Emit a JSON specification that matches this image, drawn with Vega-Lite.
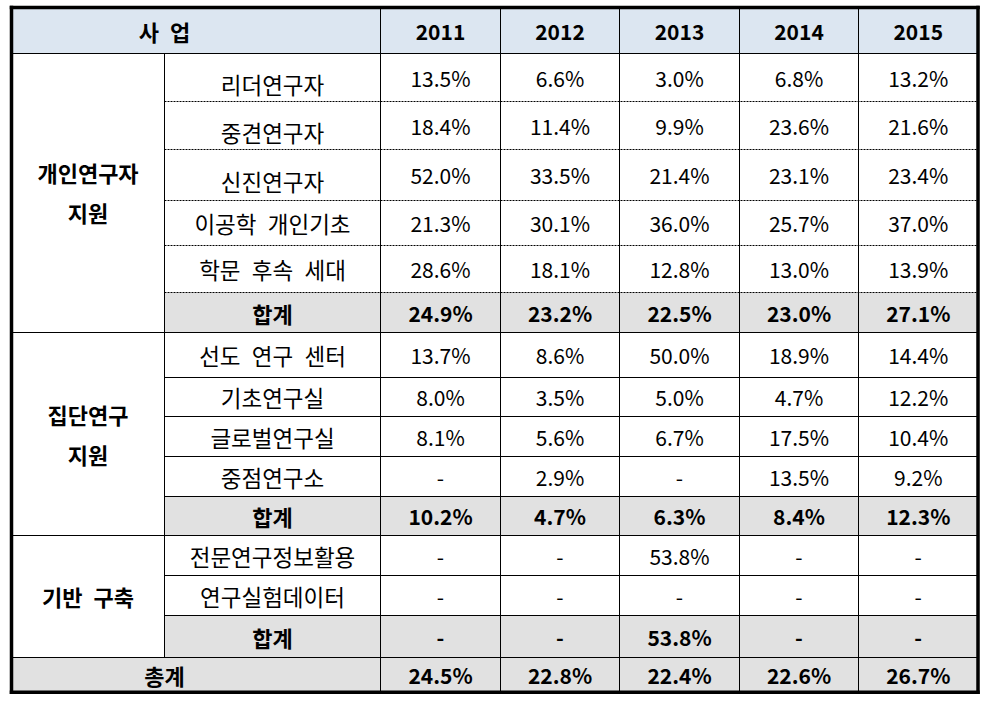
{
  "$schema": "https://vega.github.io/schema/vega-lite/v6.json",
  "width": 991,
  "height": 704,
  "autosize": {"type": "none"},
  "padding": 0,
  "background": "white",
  "config": {
    "view": {"stroke": null},
    "text": {"font": "Noto Sans CJK KR", "fontSize": 21, "lineBreak": "\n", "lineHeight": 40, "color": "black", "baseline": "middle", "align": "center"}
  },
  "datasets": {
    "cells": [
      {"x0": 0, "x1": 2, "y0": 0, "y1": 1, "t": "사 업", "kind": "head"},
      {"x0": 2, "x1": 3, "y0": 0, "y1": 1, "t": "2011", "kind": "head"},
      {"x0": 3, "x1": 4, "y0": 0, "y1": 1, "t": "2012", "kind": "head"},
      {"x0": 4, "x1": 5, "y0": 0, "y1": 1, "t": "2013", "kind": "head"},
      {"x0": 5, "x1": 6, "y0": 0, "y1": 1, "t": "2014", "kind": "head"},
      {"x0": 6, "x1": 7, "y0": 0, "y1": 1, "t": "2015", "kind": "head"},
      {"x0": 0, "x1": 1, "y0": 1, "y1": 7, "t": "개인연구자\n지원", "kind": "group"},
      {"x0": 0, "x1": 1, "y0": 7, "y1": 12, "t": "집단연구\n지원", "kind": "group"},
      {"x0": 0, "x1": 1, "y0": 12, "y1": 15, "t": "기반 구축", "kind": "group"},

      {"x0": 1, "x1": 2, "y0": 1, "y1": 2, "t": "리더연구자", "kind": "item"},
      {"x0": 2, "x1": 3, "y0": 1, "y1": 2, "t": "13.5%", "kind": "item"},
      {"x0": 3, "x1": 4, "y0": 1, "y1": 2, "t": "6.6%", "kind": "item"},
      {"x0": 4, "x1": 5, "y0": 1, "y1": 2, "t": "3.0%", "kind": "item"},
      {"x0": 5, "x1": 6, "y0": 1, "y1": 2, "t": "6.8%", "kind": "item"},
      {"x0": 6, "x1": 7, "y0": 1, "y1": 2, "t": "13.2%", "kind": "item"},

      {"x0": 1, "x1": 2, "y0": 2, "y1": 3, "t": "중견연구자", "kind": "item"},
      {"x0": 2, "x1": 3, "y0": 2, "y1": 3, "t": "18.4%", "kind": "item"},
      {"x0": 3, "x1": 4, "y0": 2, "y1": 3, "t": "11.4%", "kind": "item"},
      {"x0": 4, "x1": 5, "y0": 2, "y1": 3, "t": "9.9%", "kind": "item"},
      {"x0": 5, "x1": 6, "y0": 2, "y1": 3, "t": "23.6%", "kind": "item"},
      {"x0": 6, "x1": 7, "y0": 2, "y1": 3, "t": "21.6%", "kind": "item"},

      {"x0": 1, "x1": 2, "y0": 3, "y1": 4, "t": "신진연구자", "kind": "item"},
      {"x0": 2, "x1": 3, "y0": 3, "y1": 4, "t": "52.0%", "kind": "item"},
      {"x0": 3, "x1": 4, "y0": 3, "y1": 4, "t": "33.5%", "kind": "item"},
      {"x0": 4, "x1": 5, "y0": 3, "y1": 4, "t": "21.4%", "kind": "item"},
      {"x0": 5, "x1": 6, "y0": 3, "y1": 4, "t": "23.1%", "kind": "item"},
      {"x0": 6, "x1": 7, "y0": 3, "y1": 4, "t": "23.4%", "kind": "item"},

      {"x0": 1, "x1": 2, "y0": 4, "y1": 5, "t": "이공학 개인기초", "kind": "item"},
      {"x0": 2, "x1": 3, "y0": 4, "y1": 5, "t": "21.3%", "kind": "item"},
      {"x0": 3, "x1": 4, "y0": 4, "y1": 5, "t": "30.1%", "kind": "item"},
      {"x0": 4, "x1": 5, "y0": 4, "y1": 5, "t": "36.0%", "kind": "item"},
      {"x0": 5, "x1": 6, "y0": 4, "y1": 5, "t": "25.7%", "kind": "item"},
      {"x0": 6, "x1": 7, "y0": 4, "y1": 5, "t": "37.0%", "kind": "item"},

      {"x0": 1, "x1": 2, "y0": 5, "y1": 6, "t": "학문 후속 세대", "kind": "item"},
      {"x0": 2, "x1": 3, "y0": 5, "y1": 6, "t": "28.6%", "kind": "item"},
      {"x0": 3, "x1": 4, "y0": 5, "y1": 6, "t": "18.1%", "kind": "item"},
      {"x0": 4, "x1": 5, "y0": 5, "y1": 6, "t": "12.8%", "kind": "item"},
      {"x0": 5, "x1": 6, "y0": 5, "y1": 6, "t": "13.0%", "kind": "item"},
      {"x0": 6, "x1": 7, "y0": 5, "y1": 6, "t": "13.9%", "kind": "item"},

      {"x0": 1, "x1": 2, "y0": 6, "y1": 7, "t": "합계", "kind": "sub"},
      {"x0": 2, "x1": 3, "y0": 6, "y1": 7, "t": "24.9%", "kind": "sub"},
      {"x0": 3, "x1": 4, "y0": 6, "y1": 7, "t": "23.2%", "kind": "sub"},
      {"x0": 4, "x1": 5, "y0": 6, "y1": 7, "t": "22.5%", "kind": "sub"},
      {"x0": 5, "x1": 6, "y0": 6, "y1": 7, "t": "23.0%", "kind": "sub"},
      {"x0": 6, "x1": 7, "y0": 6, "y1": 7, "t": "27.1%", "kind": "sub"},

      {"x0": 1, "x1": 2, "y0": 7, "y1": 8, "t": "선도 연구 센터", "kind": "item"},
      {"x0": 2, "x1": 3, "y0": 7, "y1": 8, "t": "13.7%", "kind": "item"},
      {"x0": 3, "x1": 4, "y0": 7, "y1": 8, "t": "8.6%", "kind": "item"},
      {"x0": 4, "x1": 5, "y0": 7, "y1": 8, "t": "50.0%", "kind": "item"},
      {"x0": 5, "x1": 6, "y0": 7, "y1": 8, "t": "18.9%", "kind": "item"},
      {"x0": 6, "x1": 7, "y0": 7, "y1": 8, "t": "14.4%", "kind": "item"},

      {"x0": 1, "x1": 2, "y0": 8, "y1": 9, "t": "기초연구실", "kind": "item"},
      {"x0": 2, "x1": 3, "y0": 8, "y1": 9, "t": "8.0%", "kind": "item"},
      {"x0": 3, "x1": 4, "y0": 8, "y1": 9, "t": "3.5%", "kind": "item"},
      {"x0": 4, "x1": 5, "y0": 8, "y1": 9, "t": "5.0%", "kind": "item"},
      {"x0": 5, "x1": 6, "y0": 8, "y1": 9, "t": "4.7%", "kind": "item"},
      {"x0": 6, "x1": 7, "y0": 8, "y1": 9, "t": "12.2%", "kind": "item"},

      {"x0": 1, "x1": 2, "y0": 9, "y1": 10, "t": "글로벌연구실", "kind": "item"},
      {"x0": 2, "x1": 3, "y0": 9, "y1": 10, "t": "8.1%", "kind": "item"},
      {"x0": 3, "x1": 4, "y0": 9, "y1": 10, "t": "5.6%", "kind": "item"},
      {"x0": 4, "x1": 5, "y0": 9, "y1": 10, "t": "6.7%", "kind": "item"},
      {"x0": 5, "x1": 6, "y0": 9, "y1": 10, "t": "17.5%", "kind": "item"},
      {"x0": 6, "x1": 7, "y0": 9, "y1": 10, "t": "10.4%", "kind": "item"},

      {"x0": 1, "x1": 2, "y0": 10, "y1": 11, "t": "중점연구소", "kind": "item"},
      {"x0": 2, "x1": 3, "y0": 10, "y1": 11, "t": "-", "kind": "item"},
      {"x0": 3, "x1": 4, "y0": 10, "y1": 11, "t": "2.9%", "kind": "item"},
      {"x0": 4, "x1": 5, "y0": 10, "y1": 11, "t": "-", "kind": "item"},
      {"x0": 5, "x1": 6, "y0": 10, "y1": 11, "t": "13.5%", "kind": "item"},
      {"x0": 6, "x1": 7, "y0": 10, "y1": 11, "t": "9.2%", "kind": "item"},

      {"x0": 1, "x1": 2, "y0": 11, "y1": 12, "t": "합계", "kind": "sub"},
      {"x0": 2, "x1": 3, "y0": 11, "y1": 12, "t": "10.2%", "kind": "sub"},
      {"x0": 3, "x1": 4, "y0": 11, "y1": 12, "t": "4.7%", "kind": "sub"},
      {"x0": 4, "x1": 5, "y0": 11, "y1": 12, "t": "6.3%", "kind": "sub"},
      {"x0": 5, "x1": 6, "y0": 11, "y1": 12, "t": "8.4%", "kind": "sub"},
      {"x0": 6, "x1": 7, "y0": 11, "y1": 12, "t": "12.3%", "kind": "sub"},

      {"x0": 1, "x1": 2, "y0": 12, "y1": 13, "t": "전문연구정보활용", "kind": "item"},
      {"x0": 2, "x1": 3, "y0": 12, "y1": 13, "t": "-", "kind": "item"},
      {"x0": 3, "x1": 4, "y0": 12, "y1": 13, "t": "-", "kind": "item"},
      {"x0": 4, "x1": 5, "y0": 12, "y1": 13, "t": "53.8%", "kind": "item"},
      {"x0": 5, "x1": 6, "y0": 12, "y1": 13, "t": "-", "kind": "item"},
      {"x0": 6, "x1": 7, "y0": 12, "y1": 13, "t": "-", "kind": "item"},

      {"x0": 1, "x1": 2, "y0": 13, "y1": 14, "t": "연구실험데이터", "kind": "item"},
      {"x0": 2, "x1": 3, "y0": 13, "y1": 14, "t": "-", "kind": "item"},
      {"x0": 3, "x1": 4, "y0": 13, "y1": 14, "t": "-", "kind": "item"},
      {"x0": 4, "x1": 5, "y0": 13, "y1": 14, "t": "-", "kind": "item"},
      {"x0": 5, "x1": 6, "y0": 13, "y1": 14, "t": "-", "kind": "item"},
      {"x0": 6, "x1": 7, "y0": 13, "y1": 14, "t": "-", "kind": "item"},

      {"x0": 1, "x1": 2, "y0": 14, "y1": 15, "t": "합계", "kind": "sub"},
      {"x0": 2, "x1": 3, "y0": 14, "y1": 15, "t": "-", "kind": "sub"},
      {"x0": 3, "x1": 4, "y0": 14, "y1": 15, "t": "-", "kind": "sub"},
      {"x0": 4, "x1": 5, "y0": 14, "y1": 15, "t": "53.8%", "kind": "sub"},
      {"x0": 5, "x1": 6, "y0": 14, "y1": 15, "t": "-", "kind": "sub"},
      {"x0": 6, "x1": 7, "y0": 14, "y1": 15, "t": "-", "kind": "sub"},

      {"x0": 0, "x1": 2, "y0": 15, "y1": 16, "t": "총계", "kind": "total"},
      {"x0": 2, "x1": 3, "y0": 15, "y1": 16, "t": "24.5%", "kind": "total"},
      {"x0": 3, "x1": 4, "y0": 15, "y1": 16, "t": "22.8%", "kind": "total"},
      {"x0": 4, "x1": 5, "y0": 15, "y1": 16, "t": "22.4%", "kind": "total"},
      {"x0": 5, "x1": 6, "y0": 15, "y1": 16, "t": "22.6%", "kind": "total"},
      {"x0": 6, "x1": 7, "y0": 15, "y1": 16, "t": "26.7%", "kind": "total"}
    ],
    "lines": [
      {"x0": 0, "x1": 7, "y0": 1, "y1": 1, "s": "solid"},
      {"x0": 1, "x1": 7, "y0": 2, "y1": 2, "s": "dash"},
      {"x0": 1, "x1": 7, "y0": 3, "y1": 3, "s": "dash"},
      {"x0": 1, "x1": 7, "y0": 4, "y1": 4, "s": "dash"},
      {"x0": 1, "x1": 7, "y0": 5, "y1": 5, "s": "dash"},
      {"x0": 1, "x1": 7, "y0": 6, "y1": 6, "s": "dash"},
      {"x0": 0, "x1": 7, "y0": 7, "y1": 7, "s": "solid"},
      {"x0": 1, "x1": 7, "y0": 8, "y1": 8, "s": "solid"},
      {"x0": 1, "x1": 7, "y0": 9, "y1": 9, "s": "solid"},
      {"x0": 1, "x1": 7, "y0": 10, "y1": 10, "s": "solid"},
      {"x0": 1, "x1": 7, "y0": 11, "y1": 11, "s": "solid"},
      {"x0": 0, "x1": 7, "y0": 12, "y1": 12, "s": "solid"},
      {"x0": 1, "x1": 7, "y0": 13, "y1": 13, "s": "solid"},
      {"x0": 1, "x1": 7, "y0": 14, "y1": 14, "s": "solid"},
      {"x0": 0, "x1": 7, "y0": 15, "y1": 15, "s": "solid"},
      {"x0": 1, "x1": 1, "y0": 1, "y1": 15, "s": "solid"},
      {"x0": 2, "x1": 2, "y0": 0, "y1": 16, "s": "solid"},
      {"x0": 3, "x1": 3, "y0": 0, "y1": 16, "s": "solid"},
      {"x0": 4, "x1": 4, "y0": 0, "y1": 16, "s": "solid"},
      {"x0": 5, "x1": 5, "y0": 0, "y1": 16, "s": "solid"},
      {"x0": 6, "x1": 6, "y0": 0, "y1": 16, "s": "solid"},
      {"x0": 0, "x1": 7, "y0": 0, "y1": 0, "s": "thick"},
      {"x0": 0, "x1": 7, "y0": 16, "y1": 16, "s": "thick"},
      {"x0": 0, "x1": 0, "y0": 0, "y1": 16, "s": "thick"},
      {"x0": 7, "x1": 7, "y0": 0, "y1": 16, "s": "thick"}
    ]
  },
  "layer": [
    {
      "data": {"name": "cells"},
      "mark": {"type": "rect", "strokeWidth": 0},
      "encoding": {
        "x": {"field": "x0", "type": "quantitative", "axis": null, "scale": {"domain": [0, 1, 2, 3, 4, 5, 6, 7], "range": [11.5, 164.5, 380.5, 500.5, 619.5, 739.5, 858.5, 978], "nice": false, "zero": false}},
        "x2": {"field": "x1"},
        "y": {"field": "y0", "type": "quantitative", "axis": null, "scale": {"domain": [0, 1, 2, 3, 4, 5, 6, 7, 8, 9, 10, 11, 12, 13, 14, 15, 16], "range": [7.5, 53.5, 101.5, 149.5, 200.5, 245.5, 292.5, 332.5, 377.5, 416.5, 456.5, 496.5, 535.5, 575.5, 615.5, 657.5, 692.3], "nice": false, "zero": false}},
        "y2": {"field": "y1"},
        "fill": {"field": "kind", "type": "nominal", "legend": null, "scale": {"domain": ["head", "item", "sub", "total", "group"], "range": ["#DCE6F1", "#FFFFFF", "#E1E1E1", "#E1E1E1", "#FFFFFF"]}}
      }
    },
    {
      "data": {"name": "lines"},
      "transform": [{"filter": "datum.s === 'solid'"}],
      "mark": {"type": "rule", "color": "black", "strokeWidth": 1},
      "encoding": {
        "x": {"field": "x0", "type": "quantitative", "axis": null},
        "x2": {"field": "x1"},
        "y": {"field": "y0", "type": "quantitative", "axis": null},
        "y2": {"field": "y1"}
      }
    },
    {
      "data": {"name": "lines"},
      "transform": [{"filter": "datum.s === 'dash'"}],
      "mark": {"type": "rule", "color": "black", "strokeWidth": 1, "strokeDash": [2, 1]},
      "encoding": {
        "x": {"field": "x0", "type": "quantitative", "axis": null},
        "x2": {"field": "x1"},
        "y": {"field": "y0", "type": "quantitative", "axis": null},
        "y2": {"field": "y1"}
      }
    },
    {
      "data": {"name": "lines"},
      "transform": [{"filter": "datum.s === 'thick'"}],
      "mark": {"type": "rule", "color": "black", "strokeWidth": 3.5, "strokeCap": "square"},
      "encoding": {
        "x": {"field": "x0", "type": "quantitative", "axis": null},
        "x2": {"field": "x1"},
        "y": {"field": "y0", "type": "quantitative", "axis": null},
        "y2": {"field": "y1"}
      }
    },
    {
      "data": {"name": "cells"},
      "transform": [
        {"filter": "datum.kind === 'item' && datum.x0 >= 2"},
        {"calculate": "(datum.x0 + datum.x1) / 2", "as": "xm"},
        {"calculate": "(datum.y0 + datum.y1) / 2", "as": "ym"}
      ],
      "mark": {"type": "text", "fontWeight": "normal", "fontSize": 21, "dy": 3},
      "encoding": {
        "x": {"field": "xm", "type": "quantitative", "axis": null},
        "y": {"field": "ym", "type": "quantitative", "axis": null},
        "text": {"field": "t", "type": "nominal"}
      }
    },
    {
      "data": {"name": "cells"},
      "transform": [
        {"filter": "datum.kind === 'item' && datum.x0 === 1 && datum.y0 <= 3"},
        {"calculate": "(datum.x0 + datum.x1) / 2", "as": "xm"},
        {"calculate": "(datum.y0 + datum.y1) / 2", "as": "ym"}
      ],
      "mark": {"type": "text", "fontWeight": "normal", "fontSize": 22.5, "dy": 9},
      "encoding": {
        "x": {"field": "xm", "type": "quantitative", "axis": null},
        "y": {"field": "ym", "type": "quantitative", "axis": null},
        "text": {"field": "t", "type": "nominal"}
      }
    },
    {
      "data": {"name": "cells"},
      "transform": [
        {"filter": "datum.kind === 'item' && datum.x0 === 1 && datum.y0 > 3"},
        {"calculate": "replace(datum.t, / /g, '\u2002')", "as": "tw"},
        {"calculate": "(datum.x0 + datum.x1) / 2", "as": "xm"},
        {"calculate": "(datum.y0 + datum.y1) / 2", "as": "ym"}
      ],
      "mark": {"type": "text", "fontWeight": "normal", "fontSize": 22.5, "dy": 3},
      "encoding": {
        "x": {"field": "xm", "type": "quantitative", "axis": null},
        "y": {"field": "ym", "type": "quantitative", "axis": null},
        "text": {"field": "tw", "type": "nominal"}
      }
    },
    {
      "data": {"name": "cells"},
      "transform": [
        {"filter": "datum.kind !== 'item' && datum.kind !== 'group' && datum.x0 >= 2"},
        {"calculate": "(datum.x0 + datum.x1) / 2", "as": "xm"},
        {"calculate": "(datum.y0 + datum.y1) / 2", "as": "ym"}
      ],
      "mark": {"type": "text", "fontWeight": "bold", "fontSize": 21, "dy": 3},
      "encoding": {
        "x": {"field": "xm", "type": "quantitative", "axis": null},
        "y": {"field": "ym", "type": "quantitative", "axis": null},
        "text": {"field": "t", "type": "nominal"}
      }
    },
    {
      "data": {"name": "cells"},
      "transform": [
        {"filter": "datum.kind !== 'item' && datum.x1 <= 2 && indexof(datum.t, '\\n') < 0"},
        {"calculate": "replace(datum.t, / /g, '\u2002')", "as": "tw"},
        {"calculate": "(datum.x0 + datum.x1) / 2", "as": "xm"},
        {"calculate": "(datum.y0 + datum.y1) / 2", "as": "ym"}
      ],
      "mark": {"type": "text", "fontWeight": "bold", "fontSize": 22, "dy": 3},
      "encoding": {
        "x": {"field": "xm", "type": "quantitative", "axis": null},
        "y": {"field": "ym", "type": "quantitative", "axis": null},
        "text": {"field": "tw", "type": "nominal"}
      }
    },
    {
      "data": {"name": "cells"},
      "transform": [
        {"filter": "datum.kind === 'group' && indexof(datum.t, '\\n') >= 0 && datum.y0 === 1"},
        {"calculate": "(datum.x0 + datum.x1) / 2", "as": "xm"},
        {"calculate": "(datum.y0 + datum.y1) / 2", "as": "ym"}
      ],
      "mark": {"type": "text", "fontWeight": "bold", "fontSize": 22, "dy": -26},
      "encoding": {
        "x": {"field": "xm", "type": "quantitative", "axis": null},
        "y": {"field": "ym", "type": "quantitative", "axis": null},
        "text": {"field": "t", "type": "nominal"}
      }
    },
    {
      "data": {"name": "cells"},
      "transform": [
        {"filter": "datum.kind === 'group' && indexof(datum.t, '\\n') >= 0 && datum.y0 === 7"},
        {"calculate": "(datum.x0 + datum.x1) / 2", "as": "xm"},
        {"calculate": "(datum.y0 + datum.y1) / 2", "as": "ym"}
      ],
      "mark": {"type": "text", "fontWeight": "bold", "fontSize": 22, "dy": -20},
      "encoding": {
        "x": {"field": "xm", "type": "quantitative", "axis": null},
        "y": {"field": "ym", "type": "quantitative", "axis": null},
        "text": {"field": "t", "type": "nominal"}
      }
    }
  ]
}
